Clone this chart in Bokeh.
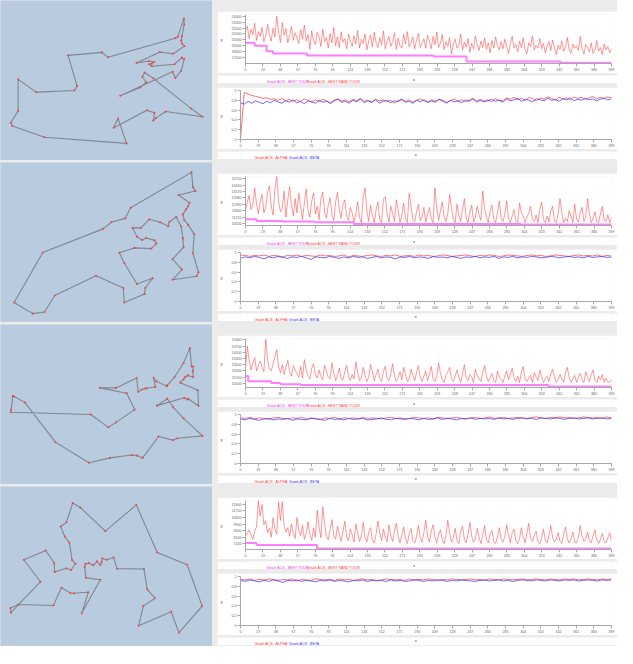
import numpy as np
from bokeh.plotting import figure
from bokeh.layouts import row, column
from bokeh.models import Range1d, FixedTicker, CustomJSTickFormatter, Spacer, ColumnDataSource
from bokeh.core.properties import value
from bokeh.embed import file_html
from bokeh.resources import INLINE

PANEL = "#b9cbdf"
PAGE = "#ebebeb"

X_TICKS = list(range(0, 400, 19))
AB_TICKS = [0, 0.2, 0.4, 0.6, 0.8, 1]

# ---------------- tours (picture coordinates) ----------------
TOUR1 = [(83,258),(137,297),(252,292),(260,278),(233,185),(335,176),(353,191),(555,133),(563,128),
         (581,73),(582,91),(575,127),(573,140),(576,150),(583,157),(549,180),(509,175),(439,208),
         (476,202),(492,205),(484,210),(476,212),(485,218),(553,212),(575,192),(582,196),(573,232),
         (555,254),(547,235),(390,308),(450,283),(468,266),(456,250),(463,237),(489,255),(603,347),
         (637,372),(526,356),(497,376),(489,384),(493,360),(470,352),(370,405),(383,377),(409,453),
         (162,434),(66,400),(61,390),(83,354)]
TOUR2 = [(604,40),(608,85),(616,97),(565,109),(598,133),(594,143),(588,152),(578,168),(582,185),
         (594,200),(612,228),(608,286),(625,344),(619,356),(547,367),(575,336),(547,304),(580,268),
         (578,241),(573,205),(558,176),(537,191),(534,204),(510,192),(477,183),(452,209),(427,209),
         (440,236),(456,246),(468,240),(493,247),(498,257),(483,272),(432,270),(387,285),(402,316),
         (440,380),(487,362),(465,392),(463,410),(402,436),(399,392),(317,355),(193,415),(162,465),
         (127,470),(71,436),(157,284),(338,212),(364,191),(405,180),(421,148)]
TOUR3 = [(599,82),(604,138),(609,138),(608,152),(609,170),(593,165),(585,170),(580,177),(570,187),
         (623,210),(625,258),(594,236),(592,238),(582,233),(500,257),(531,236),(549,262),(580,296),
         (637,349),(562,356),(548,362),(505,351),(457,416),(440,409),(424,407),(359,416),(296,431),
         (195,368),(103,247),(71,229),(67,228),(62,270),(61,277),(301,284),(354,323),(377,308),
         (433,269),(409,219),(329,203),(377,203),(439,173),(444,215),(455,208),(465,205),(470,204),
         (495,200),(490,172),(498,183),(530,198),(531,195),(553,170),(580,127)]
TOUR4 = [(247,60),(270,74),(345,146),(438,66),(501,211),(591,248),(636,374),(566,455),(543,391),
         (445,434),(459,374),(494,350),(471,323),(461,261),(380,260),(370,226),(349,233),(336,229),
         (334,240),(330,249),(320,238),(309,250),(295,243),(285,246),(283,256),(287,288),(330,294),
         (274,396),(294,332),(250,335),(240,334),(213,318),(189,372),(84,369),(60,380),(61,394),
         (150,300),(100,233),(166,205),(191,242),(193,270),(228,259),(242,264),(255,245),(245,234),
         (237,181),(223,162),(211,132),(228,119)]
TOUR_Y_SPAN = [(505, 18), (497, 10), (497, 10), (497, 10)]

# ---------------- best tour (step) ----------------
BEST1_X = [0, 10, 23, 30, 67, 205, 241, 343, 399]
BEST1_Y = [19524, 19000, 18070, 17690, 17340, 17190, 16320, 16130, 16130]
BEST2_X = [0, 12, 40, 75, 118, 300, 399]
BEST2_Y = [11010, 10850, 10790, 10730, 10560, 10530, 10530]
BEST3_X = [0, 3, 28, 38, 60, 330, 399]
BEST3_Y = [11320, 10740, 10540, 10400, 10300, 10150, 10150]
BEST4_X = [0, 12, 78, 399]
BEST4_Y = [7290, 6990, 6520, 6520]

# ---------------- best random tour (one value every 2 iterations) ----------------
RAND1 = [21500, 22300, 20200, 21800, 20900, 22800, 19900, 21400, 20600, 22100, 19700, 20800, 22600, 21000, 19800, 22000, 20500, 24000, 21300, 19600,
         22900, 20800, 21900, 19500, 20700, 22300, 19900, 21200, 20300, 19400, 21700, 20100, 22500, 19800, 20900, 18400, 21500, 20000, 19200, 21300,
         20600, 18900, 21800, 19700, 20400, 18600, 21100, 19500, 22100, 19000, 20500, 18700, 21400, 19600, 20200, 18500, 21000, 19800, 18900, 20700,
         19300, 21600, 18600, 20100, 19400, 21000, 18300, 19900, 20800, 18800, 21300, 19500, 18700, 20400, 19100, 21500, 18500, 19800, 20600, 18900,
         19700, 21200, 18400, 20300, 19000, 18600, 20900, 19300, 21400, 18800, 19600, 20500, 18500, 19900, 21100, 18700, 19400, 20200, 18600, 20800,
         19800, 18500, 20600, 19200, 21300, 18700, 19500, 20900, 18400, 19700, 18900, 20400, 17600, 19300, 20100, 18600, 19000, 21000, 18300, 19600,
         18800, 20200, 17900, 19400, 18500, 20700, 19100, 18200, 19800, 18700, 20300, 18400, 19500, 17800, 19900, 18600, 20500, 19000, 18300, 19700,
         18500, 20100, 18900, 17700, 19300, 20600, 18600, 19200, 18000, 19800, 18700, 20300, 18400, 17600, 19500, 18900, 20700, 18300, 19100, 18600,
         20200, 18500, 19400, 17800, 18900, 19700, 18200, 20000, 18600, 17500, 19100, 18400, 19800, 18100, 18800, 20400, 18300, 17700, 19300, 18600,
         19000, 18200, 20600, 18500, 17600, 19200, 18700, 18000, 19500, 17700, 18400, 19900, 18100, 18700, 17500, 19300, 18300, 18900, 17800, 18400]
RAND2 = [11800, 12600, 13200, 11900, 12300, 13900, 12400, 11500, 12700, 13300, 11600, 12100, 13500, 14100, 12200, 11400, 13800, 14950, 12600, 11700,
         12000, 13600, 11200, 12800, 14000, 12300, 11300, 12900, 11600, 13400, 12100, 11000, 12500, 13800, 11800, 11200, 12700, 13400, 11500, 12200,
         11000, 12900, 13500, 11700, 11100, 12300, 13000, 11400, 10900, 12600, 13500, 11900, 11100, 12400, 12800, 11300, 10900, 12100, 11600, 10800,
         11500, 12600, 11200, 10700, 13100, 13900, 11800, 10800, 12300, 11400, 10700, 11900, 12600, 11000, 10700, 12900, 13100, 11500, 10750, 12200,
         11600, 10800, 12800, 11900, 10700, 11300, 12500, 11000, 10700, 13400, 12200, 11000, 10800, 11700, 12400, 10900, 11200, 12100, 10750, 11500,
         12100, 11000, 10700, 13900, 12000, 10900, 11800, 12600, 11200, 10800, 11500, 13300, 12100, 11000, 10700, 12400, 11300, 10800, 11900, 12900,
         11100, 10700, 11700, 12300, 10750, 11200, 12200, 11400, 10900, 13600, 12000, 11200, 10700, 11800, 12300, 11000, 10700, 11600, 12700, 11100,
         10800, 11500, 12700, 11100, 10700, 11300, 11900, 10900, 10700, 12500, 11600, 11300, 10700, 11200, 11600, 12200, 11000, 10800, 11400, 10700,
         11900, 12600, 11000, 10700, 11300, 10750, 11800, 12200, 10800, 10700, 11500, 12900, 11600, 10700, 11100, 10800, 11800, 11300, 10700, 12400,
         11000, 10750, 11600, 12100, 10800, 11200, 12900, 11500, 10700, 11100, 11700, 10800, 10700, 11500, 12200, 10900, 10800, 11400, 10700, 11200]
RAND3 = [12200, 14700, 13100, 12000, 12800, 13400, 11900, 12500, 13000, 12300, 11800, 15450, 13200, 12100, 11900, 12700, 13500, 14280, 12400, 11700,
         12600, 11500, 12300, 13090, 11800, 11300, 12500, 12000, 11600, 11200, 12400, 11100, 13190, 12000, 11300, 11000, 12200, 12700, 11500, 11100,
         12000, 11300, 10900, 12500, 11900, 11200, 11000, 12800, 11600, 10800, 11400, 12200, 11000, 10900, 11800, 12500, 11300, 10800, 11500, 11000,
         12920, 11700, 10800, 11100, 12300, 11400, 10700, 11200, 12600, 11800, 10800, 11500, 12100, 11000, 10700, 11900, 12400, 11100, 10800, 11600,
         12700, 11300, 10700, 11200, 11800, 10900, 12300, 11500, 10700, 11000, 12100, 11400, 10800, 11700, 12500, 11200, 10700, 11300, 11900, 10800,
         11500, 12400, 11000, 10700, 11300, 12800, 11600, 10900, 10600, 11400, 11800, 12300, 11000, 10700, 11300, 12000, 11200, 10600, 11600, 12600,
         11100, 10800, 11500, 11200, 10600, 12100, 11400, 11000, 10700, 11700, 12500, 11300, 10700, 11100, 11600, 10800, 10600, 11900, 11200, 10900,
         10600, 11300, 11900, 10900, 11500, 12200, 11100, 10700, 11300, 10600, 11800, 12400, 11000, 10700, 11100, 11400, 10600, 11700, 11200, 10800,
         12000, 11300, 10600, 11000, 11300, 10700, 11600, 12100, 11200, 10600, 10900, 11500, 11000, 10600, 11700, 12300, 11100, 10600, 11000, 11400,
         10600, 11200, 11600, 10900, 10600, 11800, 11100, 10700, 11500, 12000, 10800, 10600, 11300, 10900, 11500, 10600, 11100, 10700, 10600, 10900]
RAND4 = [8200, 8600, 9070, 8400, 7800, 8900, 9500, 13110, 11000, 12600, 9800, 10350, 8700, 9300, 8100, 10770, 9200, 8500, 12900, 10400,
         12980, 9600, 8800, 9400, 8200, 9920, 8600, 7900, 10800, 9000, 8300, 9700, 7800, 8600, 10200, 8400, 7600, 9300, 8100, 11830,
         9500, 8000, 12260, 9900, 8200, 7700, 9100, 10500, 8300, 7800, 9600, 8500, 7500, 8800, 10300, 8100, 7600, 9200, 8400, 7400,
         9900, 8600, 7500, 8200, 10100, 8000, 7400, 8800, 9400, 7700, 7300, 8500, 10300, 8700, 7600, 9200, 8100, 7400, 9800, 8300,
         7500, 8900, 10000, 8100, 7300, 8400, 9500, 7800, 7200, 8600, 9300, 7600, 7300, 8200, 9700, 8000, 7400, 8700, 10400, 8200,
         7400, 8900, 9800, 8100, 7300, 8500, 9100, 7700, 7200, 8300, 10400, 8600, 7400, 8000, 9300, 7600, 7200, 8800, 9600, 7800,
         7300, 8500, 10100, 8200, 7400, 7900, 9300, 8000, 7200, 8400, 9700, 7700, 7300, 8600, 9000, 7500, 7200, 8100, 9400, 7800,
         7400, 8200, 9800, 8400, 7300, 8700, 9200, 7600, 7200, 7900, 9400, 8100, 7300, 8600, 10000, 7900, 7500, 8300, 8900, 7400,
         7200, 8000, 9200, 7700, 7300, 8300, 9700, 8000, 7400, 7800, 8700, 7500, 7200, 8500, 9500, 7800, 7300, 7900, 8800, 7400,
         7300, 8100, 9700, 8200, 7500, 7900, 8800, 7600, 7300, 8300, 9100, 7700, 7200, 7800, 8600, 7500, 7300, 8000, 8700, 7600]

Y_TICKS1 = [17000, 18000, 19000, 20000, 21000, 22000, 23000, 24000]
Y_TICKS2 = [10620, 11210, 11800, 12390, 12980, 13570, 14160, 14750]
Y_TICKS3 = [10500, 11200, 11900, 12600, 13300, 14000, 14700, 15400]
Y_TICKS4 = [7200, 8100, 9000, 9900, 10800, 11700, 12600]
Y_SPAN = [(16000, 24300), (10430, 14950), (10030, 15550), (6380, 13150)]

# ---------------- alpha / beta ----------------
ALPHA1 = [0, 0.96, 0.93, 0.90, 0.88, 0.86, 0.84, 0.85, 0.82, 0.83, 0.80, 0.84, 0.79, 0.82, 0.78, 0.81, 0.77, 0.83,
          0.80, 0.76, 0.81, 0.78, 0.82, 0.79, 0.75, 0.80, 0.83, 0.78, 0.81, 0.77, 0.82, 0.79, 0.84, 0.78, 0.80, 0.76,
          0.82, 0.79, 0.81, 0.77, 0.80, 0.74, 0.79, 0.82, 0.78, 0.81, 0.76, 0.80, 0.83, 0.79, 0.77, 0.81, 0.78, 0.82,
          0.80, 0.76, 0.79, 0.83, 0.78, 0.81, 0.77, 0.80, 0.84, 0.79, 0.82, 0.78, 0.81, 0.77, 0.83, 0.80, 0.79, 0.85,
          0.82, 0.86, 0.81, 0.84, 0.80, 0.86, 0.83, 0.79, 0.85, 0.82, 0.87, 0.84, 0.80, 0.86, 0.83, 0.85, 0.81, 0.87,
          0.84, 0.86, 0.82, 0.85, 0.88, 0.83, 0.86, 0.84, 0.87, 0.85]
BETA1 = [0.75, 0.72, 0.78, 0.74, 0.79, 0.76, 0.73, 0.78, 0.75, 0.80, 0.77, 0.74, 0.79, 0.76, 0.81, 0.75, 0.78, 0.73,
         0.79, 0.77, 0.74, 0.80, 0.76, 0.78, 0.73, 0.79, 0.82, 0.76, 0.78, 0.74, 0.80, 0.77, 0.83, 0.75, 0.79, 0.76,
         0.81, 0.74, 0.78, 0.80, 0.75, 0.79, 0.77, 0.82, 0.76, 0.78, 0.74, 0.80, 0.77, 0.81, 0.75, 0.79, 0.76, 0.82,
         0.78, 0.74, 0.80, 0.77, 0.79, 0.75, 0.81, 0.78, 0.83, 0.76, 0.80, 0.77, 0.79, 0.82, 0.78, 0.80, 0.76, 0.83,
         0.79, 0.81, 0.84, 0.78, 0.82, 0.80, 0.77, 0.83, 0.81, 0.79, 0.84, 0.80, 0.82, 0.78, 0.83, 0.81, 0.85, 0.79,
         0.82, 0.80, 0.84, 0.81, 0.83, 0.79, 0.82, 0.84, 0.81, 0.83]
ALPHA2 = [0.95, 0.94, 0.92, 0.94, 0.93, 0.95, 0.92, 0.94, 0.93, 0.91, 0.94, 0.93, 0.95, 0.92, 0.94, 0.93, 0.92, 0.95,
          0.93, 0.94, 0.92, 0.93, 0.95, 0.91, 0.94, 0.93, 0.92, 0.94, 0.95, 0.93, 0.92, 0.94, 0.93, 0.95, 0.92, 0.93,
          0.94, 0.92, 0.95, 0.93, 0.94, 0.92, 0.93, 0.95, 0.94, 0.92, 0.93, 0.94, 0.95, 0.93, 0.92, 0.94, 0.93, 0.95,
          0.94, 0.92, 0.93, 0.95, 0.94, 0.93, 0.92, 0.94, 0.95, 0.93, 0.94, 0.92, 0.93, 0.95, 0.94, 0.93, 0.92, 0.94,
          0.95, 0.93, 0.94, 0.93, 0.95, 0.92, 0.94, 0.93]
BETA2 = [0.88, 0.91, 0.89, 0.92, 0.90, 0.87, 0.91, 0.89, 0.92, 0.90, 0.88, 0.91, 0.90, 0.92, 0.89, 0.86, 0.91, 0.90,
         0.89, 0.92, 0.90, 0.88, 0.91, 0.89, 0.92, 0.90, 0.91, 0.88, 0.90, 0.92, 0.89, 0.91, 0.90, 0.87, 0.91, 0.90,
         0.92, 0.89, 0.91, 0.90, 0.88, 0.92, 0.90, 0.91, 0.89, 0.92, 0.90, 0.88, 0.91, 0.90, 0.92, 0.89, 0.91, 0.90,
         0.92, 0.88, 0.91, 0.90, 0.92, 0.89, 0.91, 0.90, 0.92, 0.91, 0.89, 0.90, 0.92, 0.91, 0.89, 0.91, 0.92, 0.90,
         0.91, 0.89, 0.92, 0.90, 0.91, 0.92, 0.90, 0.91]
ALPHA3 = [0.93, 0.92, 0.94, 0.91, 0.93, 0.92, 0.90, 0.93, 0.94, 0.92, 0.91, 0.93, 0.92, 0.94, 0.91, 0.93, 0.92, 0.90,
          0.93, 0.92, 0.94, 0.91, 0.93, 0.92, 0.93, 0.91, 0.94, 0.92, 0.93, 0.92, 0.91, 0.93, 0.94, 0.92, 0.93, 0.91,
          0.92, 0.94, 0.93, 0.92, 0.93, 0.91, 0.94, 0.93, 0.92, 0.93, 0.94, 0.92, 0.91, 0.93, 0.94, 0.92, 0.93, 0.95,
          0.92, 0.93, 0.94, 0.92, 0.93, 0.94, 0.93, 0.92, 0.94, 0.95, 0.93, 0.92, 0.94, 0.93, 0.95, 0.93, 0.94, 0.92,
          0.93, 0.95, 0.94, 0.93, 0.94, 0.92, 0.95, 0.93]
BETA3 = [0.91, 0.89, 0.92, 0.90, 0.88, 0.91, 0.92, 0.89, 0.91, 0.90, 0.92, 0.88, 0.91, 0.90, 0.89, 0.92, 0.91, 0.90,
         0.88, 0.92, 0.90, 0.91, 0.89, 0.92, 0.90, 0.91, 0.92, 0.89, 0.90, 0.91, 0.93, 0.90, 0.89, 0.92, 0.91, 0.90,
         0.92, 0.91, 0.89, 0.92, 0.90, 0.91, 0.93, 0.90, 0.92, 0.91, 0.89, 0.92, 0.91, 0.93, 0.90, 0.92, 0.91, 0.92,
         0.90, 0.93, 0.91, 0.92, 0.90, 0.92, 0.93, 0.91, 0.92, 0.90, 0.93, 0.92, 0.91, 0.93, 0.92, 0.90, 0.92, 0.93,
         0.91, 0.92, 0.93, 0.91, 0.92, 0.93, 0.91, 0.92]
ALPHA4 = [0.94, 0.93, 0.95, 0.92, 0.94, 0.93, 0.95, 0.94, 0.92, 0.94, 0.93, 0.95, 0.91, 0.94, 0.93, 0.92, 0.95, 0.94,
          0.93, 0.94, 0.92, 0.95, 0.93, 0.94, 0.92, 0.94, 0.95, 0.93, 0.94, 0.92, 0.93, 0.95, 0.94, 0.93, 0.94, 0.92,
          0.95, 0.93, 0.94, 0.93, 0.95, 0.94, 0.92, 0.94, 0.93, 0.95, 0.94, 0.93, 0.94, 0.95, 0.93, 0.94, 0.92, 0.95,
          0.94, 0.93, 0.95, 0.94, 0.93, 0.94, 0.95, 0.93, 0.94, 0.95, 0.94, 0.93, 0.95, 0.94, 0.93, 0.95, 0.94, 0.95,
          0.93, 0.94, 0.95, 0.94, 0.93, 0.95, 0.94, 0.95]
BETA4 = [0.92, 0.90, 0.93, 0.91, 0.89, 0.92, 0.90, 0.93, 0.91, 0.88, 0.92, 0.91, 0.93, 0.90, 0.92, 0.91, 0.89, 0.92,
         0.91, 0.93, 0.90, 0.92, 0.91, 0.89, 0.92, 0.91, 0.93, 0.90, 0.92, 0.91, 0.92, 0.90, 0.93, 0.91, 0.92, 0.90,
         0.91, 0.93, 0.92, 0.90, 0.92, 0.91, 0.93, 0.92, 0.90, 0.92, 0.91, 0.93, 0.92, 0.91, 0.90, 0.92, 0.93, 0.91,
         0.92, 0.93, 0.91, 0.92, 0.90, 0.92, 0.93, 0.92, 0.91, 0.93, 0.92, 0.91, 0.93, 0.92, 0.91, 0.93, 0.92, 0.93,
         0.91, 0.92, 0.93, 0.92, 0.91, 0.93, 0.92, 0.93]

LEGEND_TOP = ["Graph ACS - BEST TOUR", "Graph ACS - BEST RAND TOUR"]
LEGEND_TOP_COLORS = ["#ee33ee", "#ff3333"]
LEGEND_BOTTOM = ["Graph ACS - ALPHA", "Graph ACS - BETA"]
LEGEND_BOTTOM_COLORS = ["#ff3030", "#3030ff"]

FONT = "Liberation Sans"
SMALL = "3.6px"
W_RIGHT = 400


def iters(vals):
    return np.linspace(0, 399, len(vals))


def tour_fig(tour, yspan):
    p = figure(width=212, height=160, x_range=Range1d(30, 667), y_range=Range1d(*yspan),
               output_backend="svg", toolbar_location=None, min_border=0,
               x_axis_location=None, y_axis_location=None,
               background_fill_color=PANEL, border_fill_color=PANEL)
    xs = [c[0] for c in tour] + [tour[0][0]]
    ys = [c[1] for c in tour] + [tour[0][1]]
    p.line(xs, ys, line_color="#7d838b", line_width=1.1, line_alpha=0.95)
    p.scatter(xs[:-1], ys[:-1], size=2.1, fill_color="#f04a4a", line_color=None)
    p.grid.visible = False
    p.outline_line_color = None
    return p


def style_axes(p, yticks):
    p.xaxis.ticker = FixedTicker(ticks=X_TICKS)
    p.yaxis.ticker = FixedTicker(ticks=yticks)
    for ax in p.axis:
        ax.axis_line_color = "#a8a8a8"
        ax.major_tick_line_color = "#a8a8a8"
        ax.major_tick_out = 3
        ax.major_tick_in = 0
        ax.minor_tick_line_color = None
        ax.major_label_text_font_size = SMALL
        ax.major_label_text_color = "#666666"
        ax.major_label_text_font = FONT
        ax.major_label_standoff = 1
    p.yaxis.axis_label = "y"
    p.yaxis.axis_label_orientation = "horizontal"
    p.yaxis.axis_label_text_font_size = "4px"
    p.yaxis.axis_label_text_font_style = "normal"
    p.yaxis.axis_label_text_font = FONT
    p.yaxis.axis_label_standoff = 6
    p.grid.visible = False
    p.outline_line_color = None


def strip(height, names, colors, name_x, name_y, xlab_x, xlab_y):
    """Legend line (and the x axis title) under a chart, drawn in pixel units."""
    p = figure(width=W_RIGHT, height=height, x_range=Range1d(0, W_RIGHT), y_range=Range1d(0, height),
               output_backend="svg", toolbar_location=None, min_border=0,
               x_axis_location=None, y_axis_location=None,
               background_fill_color="white", border_fill_color="white")
    p.grid.visible = False
    p.outline_line_color = None
    src = ColumnDataSource(dict(x=name_x + [xlab_x], y=[name_y] * len(names) + [xlab_y],
                                t=names + ["x"], c=colors + ["#333333"],
                                s=[SMALL] * len(names) + ["4px"]))
    p.text(x="x", y="y", text="t", text_color="c", text_font_size="s", source=src,
           text_font=value(FONT), text_baseline="middle", text_align="left")
    return p


def top_chart(best_x, best_y, rand, yticks, yspan):
    p = figure(width=W_RIGHT, height=62, x_range=Range1d(0, 399), y_range=Range1d(*yspan),
               output_backend="svg", toolbar_location=None,
               min_border_left=24, min_border_right=6, min_border_top=3, min_border_bottom=8,
               background_fill_color="white", border_fill_color="white")
    p.step(best_x, best_y, mode="after", line_color="#ff70ff", line_width=2, line_alpha=0.9)
    p.line(iters(rand), rand, line_color="#ff4040", line_width=0.9, line_alpha=0.6)
    style_axes(p, yticks)
    s = strip(10, LEGEND_TOP, LEGEND_TOP_COLORS, [23, 67], 4.0, 183, 6.5)
    return column(p, s, spacing=0)


def bottom_chart(alpha, beta):
    p = figure(width=W_RIGHT, height=62, x_range=Range1d(0, 399), y_range=Range1d(0, 1),
               output_backend="svg", toolbar_location=None,
               min_border_left=16, min_border_right=6, min_border_top=3, min_border_bottom=8,
               background_fill_color="white", border_fill_color="white")
    p.line(iters(alpha), alpha, line_color="#ff3030", line_width=1, line_alpha=0.7)
    p.line(iters(beta), beta, line_color="#3030ff", line_width=1, line_alpha=0.7)
    style_axes(p, AB_TICKS)
    p.yaxis.formatter = CustomJSTickFormatter(code="return String(Math.round(tick*10)/10)")
    s = strip(10, LEGEND_BOTTOM, LEGEND_BOTTOM_COLORS, [15, 52], 3.8, 188, 7.0)
    return column(p, s, spacing=0)


tours = [TOUR1, TOUR2, TOUR3, TOUR4]
bests = [(BEST1_X, BEST1_Y), (BEST2_X, BEST2_Y), (BEST3_X, BEST3_Y), (BEST4_X, BEST4_Y)]
rands = [RAND1, RAND2, RAND3, RAND4]
yticks = [Y_TICKS1, Y_TICKS2, Y_TICKS3, Y_TICKS4]
alphas = [ALPHA1, ALPHA2, ALPHA3, ALPHA4]
betas = [BETA1, BETA2, BETA3, BETA4]

rows = []
for i in range(4):
    left = tour_fig(tours[i], TOUR_Y_SPAN[i])
    top = top_chart(bests[i][0], bests[i][1], rands[i], yticks[i], Y_SPAN[i])
    bottom = bottom_chart(alphas[i], betas[i])
    right = column(Spacer(width=W_RIGHT, height=7), top, bottom, spacing=4)
    rows.append(row(left, right, spacing=5))

page = column(*rows, spacing=2, styles={"background-color": PAGE})

open("out.html", "w").write(file_html(page, INLINE))
